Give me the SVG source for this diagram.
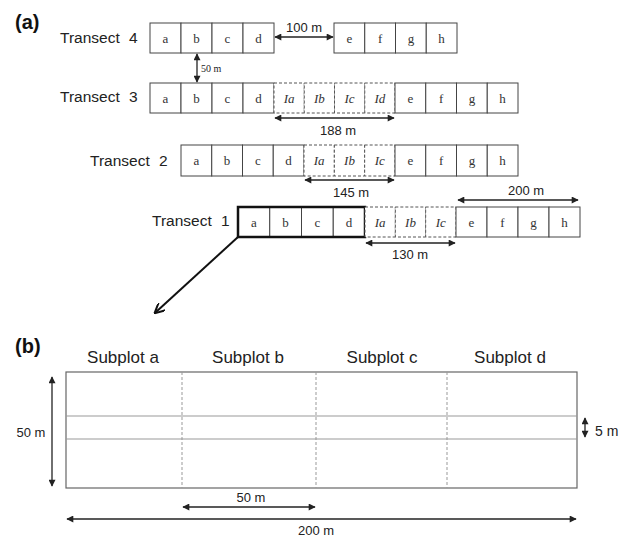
<svg xmlns="http://www.w3.org/2000/svg" width="624" height="538" viewBox="0 0 624 538">
<style>
.cell{fill:#fff;stroke:#444;stroke-width:1}
.dcell{fill:#fff;stroke:#555;stroke-width:1;stroke-dasharray:3 2}
.thick{fill:none;stroke:#111;stroke-width:2.5}
.lt{font-family:"Liberation Serif",serif;font-size:13px;fill:#333;text-anchor:middle}
.it{font-style:italic}
.tl{font-family:"Liberation Sans",Arial,sans-serif;font-size:15.5px;fill:#222;word-spacing:5px}
.ml{font-family:"Liberation Sans",Arial,sans-serif;font-size:13px;fill:#222;text-anchor:middle}
.sm{font-family:"Liberation Serif",serif;font-size:10px;fill:#222}
.pl{font-family:"Liberation Sans",Arial,sans-serif;font-size:20px;font-weight:bold;fill:#111}
.sp{font-family:"Liberation Sans",Arial,sans-serif;font-size:17px;fill:#222;text-anchor:middle}
.ar{stroke:#222;stroke-width:1.3;fill:none;marker-end:url(#ah);marker-start:url(#ah)}
</style>
<defs>
<marker id="ah" viewBox="0 0 10 10" refX="9" refY="5" markerWidth="8" markerHeight="7" markerUnits="userSpaceOnUse" orient="auto-start-reverse"><path d="M0,0 L10,5 L0,10 z" fill="#222"/></marker>
<marker id="bh" viewBox="0 0 10 10" refX="8" refY="5" markerWidth="11" markerHeight="10" markerUnits="userSpaceOnUse" orient="auto"><path d="M0,0 L10,5 L0,10" fill="none" stroke="#111" stroke-width="2"/></marker>
</defs>
<rect width="624" height="538" fill="#fff"/>
<text class="pl" x="15" y="29">(a)</text>
<text class="pl" x="15" y="353">(b)</text>

<g id="transect4">
<text class="tl" x="60" y="43">Transect 4</text>
<rect class="cell" x="150" y="23" width="31" height="30"/><text class="lt" x="165.5" y="43">a</text>
<rect class="cell" x="181" y="23" width="31" height="30"/><text class="lt" x="196.5" y="43">b</text>
<rect class="cell" x="212" y="23" width="31" height="30"/><text class="lt" x="227.5" y="43">c</text>
<rect class="cell" x="243" y="23" width="31" height="30"/><text class="lt" x="258.5" y="43">d</text>
<rect class="cell" x="334" y="23" width="30.75" height="30"/><text class="lt" x="349.4" y="43">e</text>
<rect class="cell" x="364.75" y="23" width="30.75" height="30"/><text class="lt" x="380.1" y="43">f</text>
<rect class="cell" x="395.5" y="23" width="30.75" height="30"/><text class="lt" x="410.9" y="43">g</text>
<rect class="cell" x="426.25" y="23" width="30.75" height="30"/><text class="lt" x="441.6" y="43">h</text>
</g>

<g id="transect3">
<text class="tl" x="60" y="102">Transect 3</text>
<rect class="cell" x="150" y="83" width="31" height="30"/><text class="lt" x="165.5" y="103">a</text>
<rect class="cell" x="181" y="83" width="31" height="30"/><text class="lt" x="196.5" y="103">b</text>
<rect class="cell" x="212" y="83" width="31" height="30"/><text class="lt" x="227.5" y="103">c</text>
<rect class="cell" x="243" y="83" width="31" height="30"/><text class="lt" x="258.5" y="103">d</text>
<rect class="dcell" x="274" y="83" width="30.25" height="30"/><text class="lt it" x="289.1" y="103">Ia</text>
<rect class="dcell" x="304.25" y="83" width="30.25" height="30"/><text class="lt it" x="319.4" y="103">Ib</text>
<rect class="dcell" x="334.5" y="83" width="30.25" height="30"/><text class="lt it" x="349.6" y="103">Ic</text>
<rect class="dcell" x="364.75" y="83" width="30.25" height="30"/><text class="lt it" x="379.9" y="103">Id</text>
<rect class="cell" x="395" y="83" width="30.75" height="30"/><text class="lt" x="410.4" y="103">e</text>
<rect class="cell" x="425.75" y="83" width="30.75" height="30"/><text class="lt" x="441.1" y="103">f</text>
<rect class="cell" x="456.5" y="83" width="30.75" height="30"/><text class="lt" x="471.9" y="103">g</text>
<rect class="cell" x="487.25" y="83" width="30.75" height="30"/><text class="lt" x="502.6" y="103">h</text>
</g>

<g id="transect2">
<text class="tl" x="90" y="166">Transect 2</text>
<rect class="cell" x="181" y="145" width="30.75" height="31"/><text class="lt" x="196.4" y="165">a</text>
<rect class="cell" x="211.75" y="145" width="30.75" height="31"/><text class="lt" x="227.1" y="165">b</text>
<rect class="cell" x="242.5" y="145" width="30.75" height="31"/><text class="lt" x="257.9" y="165">c</text>
<rect class="cell" x="273.25" y="145" width="30.75" height="31"/><text class="lt" x="288.6" y="165">d</text>
<rect class="dcell" x="304" y="145" width="30.33" height="31"/><text class="lt it" x="319.2" y="165">Ia</text>
<rect class="dcell" x="334.33" y="145" width="30.33" height="31"/><text class="lt it" x="349.5" y="165">Ib</text>
<rect class="dcell" x="364.67" y="145" width="30.33" height="31"/><text class="lt it" x="379.8" y="165">Ic</text>
<rect class="cell" x="395" y="145" width="30.75" height="31"/><text class="lt" x="410.4" y="165">e</text>
<rect class="cell" x="425.75" y="145" width="30.75" height="31"/><text class="lt" x="441.1" y="165">f</text>
<rect class="cell" x="456.5" y="145" width="30.75" height="31"/><text class="lt" x="471.9" y="165">g</text>
<rect class="cell" x="487.25" y="145" width="30.75" height="31"/><text class="lt" x="502.6" y="165">h</text>
</g>

<g id="transect1">
<text class="tl" x="152" y="226">Transect 1</text>
<rect class="cell" x="238" y="207" width="31.75" height="30"/><text class="lt" x="253.9" y="227">a</text>
<rect class="cell" x="269.75" y="207" width="31.75" height="30"/><text class="lt" x="285.6" y="227">b</text>
<rect class="cell" x="301.5" y="207" width="31.75" height="30"/><text class="lt" x="317.4" y="227">c</text>
<rect class="cell" x="333.25" y="207" width="31.75" height="30"/><text class="lt" x="349.1" y="227">d</text>
<rect class="thick" x="238" y="207" width="127" height="30"/>
<rect class="dcell" x="365" y="207" width="30.33" height="30"/><text class="lt it" x="380.2" y="227">Ia</text>
<rect class="dcell" x="395.33" y="207" width="30.33" height="30"/><text class="lt it" x="410.5" y="227">Ib</text>
<rect class="dcell" x="425.67" y="207" width="30.33" height="30"/><text class="lt it" x="440.8" y="227">Ic</text>
<rect class="cell" x="456" y="207" width="31" height="30"/><text class="lt" x="471.5" y="227">e</text>
<rect class="cell" x="487" y="207" width="31" height="30"/><text class="lt" x="502.5" y="227">f</text>
<rect class="cell" x="518" y="207" width="31" height="30"/><text class="lt" x="533.5" y="227">g</text>
<rect class="cell" x="549" y="207" width="31" height="30"/><text class="lt" x="564.5" y="227">h</text>
</g>

<g id="plot">
<text class="sp" x="123" y="363">Subplot a</text>
<text class="sp" x="248" y="363">Subplot b</text>
<text class="sp" x="382" y="363">Subplot c</text>
<text class="sp" x="510" y="363">Subplot d</text>
<rect x="66" y="372" width="511" height="116" fill="#fff" stroke="#666" stroke-width="1.2"/>
<line x1="66" y1="416" x2="577" y2="416" stroke="#999" stroke-width="1"/>
<line x1="66" y1="439" x2="577" y2="439" stroke="#999" stroke-width="1"/>
<line x1="182" y1="372" x2="182" y2="488" stroke="#999" stroke-width="1" stroke-dasharray="3 2"/>
<line x1="316" y1="372" x2="316" y2="488" stroke="#999" stroke-width="1" stroke-dasharray="3 2"/>
<line x1="447" y1="372" x2="447" y2="488" stroke="#999" stroke-width="1" stroke-dasharray="3 2"/>
</g>

<g id="connectors">
<line class="ar" x1="275" y1="37" x2="333" y2="37"/>
<text class="ml" x="304" y="32">100 m</text>
<line class="ar" x1="197" y1="54" x2="197" y2="82"/>
<text class="sm" x="201" y="72">50 m</text>
<line class="ar" x1="275" y1="118" x2="394" y2="118"/>
<text class="ml" x="338" y="135">188 m</text>
<line class="ar" x1="305" y1="180" x2="394" y2="180"/>
<text class="ml" x="351" y="197">145 m</text>
<line class="ar" x1="458" y1="200" x2="578" y2="200"/>
<text class="ml" x="526" y="195">200 m</text>
<line class="ar" x1="366" y1="243" x2="455" y2="243"/>
<text class="ml" x="410" y="259">130 m</text>
<line x1="238" y1="237" x2="156" y2="312" stroke="#111" stroke-width="2" marker-end="url(#bh)"/>
<line class="ar" x1="52" y1="377" x2="52" y2="486"/>
<text class="ml" x="31" y="437">50 m</text>
<line class="ar" x1="585" y1="418" x2="585" y2="437"/>
<text class="ml" x="595" y="436" style="text-anchor:start;font-size:14px">5 m</text>
<line class="ar" x1="183" y1="507" x2="315" y2="507"/>
<text class="ml" x="251" y="502">50 m</text>
<line class="ar" x1="67" y1="519" x2="576" y2="519"/>
<text class="ml" x="316" y="535">200 m</text>
</g>
</svg>
